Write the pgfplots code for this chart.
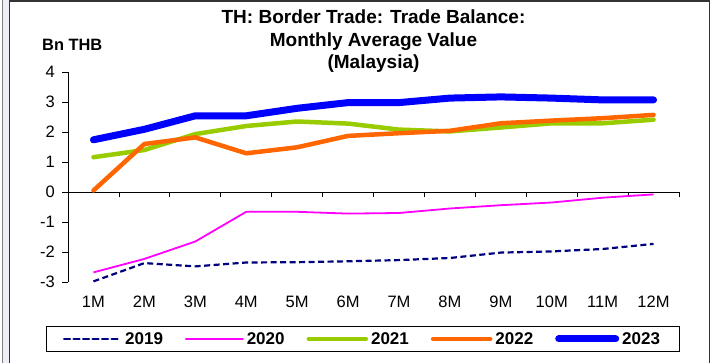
\documentclass[border=0pt]{standalone}
\usepackage{pgfplots}
\pgfplotsset{compat=1.18}
\usepackage{fontspec}
\setmainfont{Liberation Sans}
\definecolor{c19}{HTML}{000080}
\definecolor{c20}{HTML}{FF00FF}
\definecolor{c21}{HTML}{99CC00}
\definecolor{c22}{HTML}{FF6600}
\definecolor{c23}{HTML}{0000FF}
\definecolor{lav}{HTML}{EEEEF8}
\begin{document}
\begin{tikzpicture}
\begin{axis}[
  scale only axis, width=611pt, height=210pt,
  xmin=0.5, xmax=12.5, ymin=-3, ymax=4,
  axis y line*=left, axis x line*=bottom,
  x axis line style={draw=none},
  y axis line style={line width=0.8pt, black, -},
  xtick={1,...,12},
  xticklabels={1M,2M,3M,4M,5M,6M,7M,8M,9M,10M,11M,12M},
  xtick style={draw=none},
  ytick={-3,-2,-1,0,1,2,3,4},
  ytick style={black, line width=0.8pt},
  tick align=outside, major tick length=6pt,
  /pgf/number format/assume math mode=true,
  ticklabel style={font=\fontsize{16.5}{18}\selectfont},
  xticklabel style={anchor=base, yshift=-20pt},
  yticklabel style={anchor=east, inner sep=0pt, xshift=-7pt},
  legend style={at={(0.4828,-0.2714)}, anchor=center, draw=black, line width=1pt,
    font=\bfseries\fontsize{17}{17}\selectfont,
    inner xsep=16pt, inner ysep=3pt,
    nodes={inner sep=3pt},
    /tikz/every even column/.append style={column sep=19pt}},
  legend columns=5,
  legend image code/.code={\draw[#1, line cap=round] (0pt,0pt) -- (57pt,0pt);},
  clip=false,
]
\draw[line width=0.8pt, black] (axis cs:0.5,0) -- (axis cs:12.5,0);
\pgfplotsinvokeforeach{0.5,1.5,...,12.5}{\draw[line width=0.8pt, black] (axis cs:#1,0) -- ++(0pt,-5pt);}
\addplot[c19, line width=2.2pt, dash pattern=on 6pt off 3.5pt] coordinates {
(1,-2.98)(2,-2.37)(3,-2.48)(4,-2.35)(5,-2.34)(6,-2.31)(7,-2.27)(8,-2.20)(9,-2.02)(10,-1.98)(11,-1.90)(12,-1.73)};
\addlegendentry{2019}
\addplot[c20, line width=1.8pt, line join=round] coordinates {
(1,-2.68)(2,-2.23)(3,-1.65)(4,-0.66)(5,-0.66)(6,-0.72)(7,-0.70)(8,-0.55)(9,-0.44)(10,-0.35)(11,-0.19)(12,-0.08)};
\addlegendentry{2020}
\addplot[c21, line width=4.5pt, line join=round, line cap=round] coordinates {
(1,1.16)(2,1.40)(3,1.93)(4,2.20)(5,2.35)(6,2.28)(7,2.08)(8,2.02)(9,2.15)(10,2.29)(11,2.29)(12,2.41)};
\addlegendentry{2021}
\addplot[c22, line width=4.5pt, line join=round, line cap=round] coordinates {
(1,0.05)(2,1.60)(3,1.82)(4,1.29)(5,1.49)(6,1.87)(7,1.96)(8,2.04)(9,2.29)(10,2.38)(11,2.46)(12,2.57)};
\addlegendentry{2022}
\addplot[c23, line width=7pt, line join=round, line cap=round] coordinates {
(1,1.74)(2,2.09)(3,2.54)(4,2.54)(5,2.79)(6,2.98)(7,2.98)(8,3.13)(9,3.17)(10,3.13)(11,3.07)(12,3.07)};
\addlegendentry{2023}
\end{axis}
\node[anchor=base, font=\bfseries\fontsize{19}{22}\selectfont] at (305.5pt,258pt) {TH: Border Trade: Trade Balance:};
\node[anchor=base, font=\bfseries\fontsize{19}{22}\selectfont] at (305.5pt,235.5pt) {Monthly Average Value};
\node[anchor=base, font=\bfseries\fontsize{19}{22}\selectfont] at (305.5pt,213pt) {(Malaysia)};
\node[anchor=base west, inner sep=0pt, font=\bfseries\fontsize{16.4}{18}\selectfont] at (-26pt,231pt) {Bn THB};
\fill[lav] (-65.5pt,-81pt) rectangle (-58.5pt,282pt);
\draw[gray, line width=1pt] (-65.5pt,-81pt) -- (-65.5pt,282pt);
\draw[black!80, line width=1.2pt] (-58.5pt,-81pt) -- (-58.5pt,281pt) -- (641.5pt,281pt) -- (641.5pt,-81pt);
\pgfresetboundingbox
\path[use as bounding box] (-68pt,-81pt) rectangle (644pt,282pt);
\end{tikzpicture}
\end{document}
